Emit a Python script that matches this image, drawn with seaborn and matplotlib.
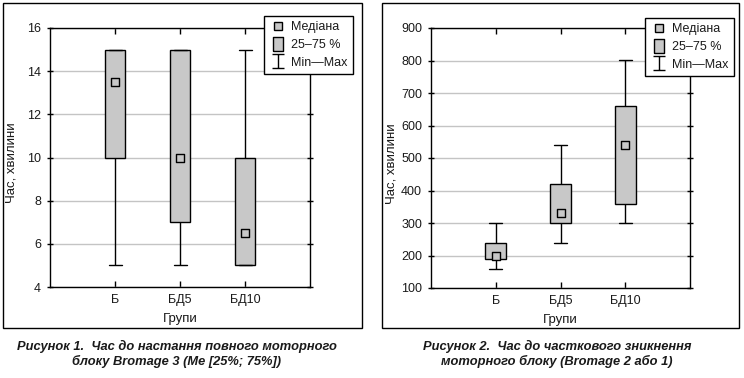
import numpy as np
import pandas as pd
import matplotlib
matplotlib.use("Agg")
import matplotlib.pyplot as plt
import seaborn as sns
from matplotlib.lines import Line2D
from matplotlib.path import Path
from matplotlib.patches import Rectangle

# ---------------- data ----------------
groups = ["Б", "БД5", "БД10"]

p1_min = [5, 5, 5]
p1_q1 = [10, 7, 5]
p1_med = [13.5, 10, 6.5]
p1_q3 = [15, 15, 10]
p1_max = [15, 15, 15]

p2_min = [160, 238, 300]
p2_q1 = [190, 300, 358]
p2_med = [200, 330, 540]
p2_q3 = [238, 420, 660]
p2_max = [300, 540, 802]

y1_ticks = [4, 6, 8, 10, 12, 14, 16]
y2_ticks = [100, 200, 300, 400, 500, 600, 700, 800, 900]

ylabel = "Час, хвилини"
xlabel = "Групи"
legend_labels = ["Медіана", "25–75 %", "Min—Max"]
captions = [
    "Рисунок 1.  Час до настання повного моторного\nблоку Bromage 3 (Me [25%; 75%])",
    "Рисунок 2.  Час до часткового зникнення\nмоторного блоку (Bromage 2 або 1)",
]

# ---------------- style ----------------
sns.set_theme(style="white")
plt.rcParams["font.family"] = ["Liberation Sans", "DejaVu Sans"]

W, H = 744, 378
fig = plt.figure(figsize=(W / 100, H / 100), dpi=100)

BOX = "#c8c8c8"
GRID = "#c4c4c4"
TXT = "#1a1a1a"


def px_axes(x0, y0, x1, y1):
    return fig.add_axes([x0 / W, 1 - y1 / H, (x1 - x0) / W, (y1 - y0) / H])


def build_df(mins, q1s, meds, q3s, maxs):
    rows = []
    for g, a, b, c, d, e in zip(groups, mins, q1s, meds, q3s, maxs):
        for v in (a, b, c, d, e):
            rows.append({"group": g, "value": v})
    return pd.DataFrame(rows)


def draw_panel(ax, df, meds, yticks, width, ylab_x):
    sns.boxplot(data=df, x="group", y="value", order=groups, whis=(0, 100),
                width=width, color=BOX, saturation=1, linecolor="black",
                linewidth=1.0, showfliers=False,
                medianprops={"visible": False}, capwidths=0.2, ax=ax, zorder=3)
    med_df = pd.DataFrame({"group": groups, "value": meds})
    sns.stripplot(data=med_df, x="group", y="value", order=groups, jitter=False,
                  marker="s", size=6, color=BOX, edgecolor="black", linewidth=1.0,
                  ax=ax, zorder=5)
    ax.set_xlim(-1, 3)
    ax.set_ylim(yticks[0], yticks[-1])
    ax.set_yticks(yticks)
    ax.set_yticklabels([str(t) for t in yticks])
    ax.yaxis.grid(True, color=GRID, linewidth=1.0, zorder=0)
    ax.set_axisbelow(True)
    for s in ax.spines.values():
        s.set_visible(True)
        s.set_color("black")
        s.set_linewidth(1.0)
    ax.tick_params(axis="y", which="both", left=True, right=True,
                   direction="inout", length=5, width=1, color="black",
                   labelsize=9, labelcolor=TXT, pad=4)
    ax.tick_params(axis="x", which="both", bottom=True, top=True,
                   direction="in", length=4, width=1, color="black",
                   labelsize=9, labelcolor=TXT, pad=5)
    ax.set_xlabel(xlabel, fontsize=9.5, color=TXT, labelpad=5)
    ax.set_ylabel(ylabel, fontsize=9.5, color=TXT)
    ax.yaxis.set_label_coords(ylab_x, 0.48)


def add_legend(right_px, top_px):
    ibeam = Path([(-0.9, 1), (0.9, 1), (0, 1), (0, -1), (-0.9, -1), (0.9, -1)],
                 [Path.MOVETO, Path.LINETO, Path.MOVETO, Path.LINETO,
                  Path.MOVETO, Path.LINETO])
    rect = [(-0.7, -1), (0.7, -1), (0.7, 1), (-0.7, 1), (-0.7, -1)]
    handles = [
        Line2D([], [], linestyle="none", marker="s", markersize=5.5,
               markerfacecolor=BOX, markeredgecolor="black", markeredgewidth=1),
        Line2D([], [], linestyle="none", marker=rect, markersize=10,
               markerfacecolor=BOX, markeredgecolor="black", markeredgewidth=1),
        Line2D([], [], linestyle="none", marker=ibeam, markersize=10,
               color="black", markeredgewidth=1, fillstyle="none"),
    ]
    leg = fig.legend(handles, legend_labels, loc="upper right",
                     bbox_to_anchor=(right_px / W, 1 - top_px / H),
                     frameon=True, fancybox=False, framealpha=1,
                     edgecolor="black", fontsize=9, handlelength=1.3,
                     handletextpad=0.45, labelspacing=0.45, borderpad=0.42,
                     borderaxespad=0)
    leg.get_frame().set_linewidth(1.0)
    for t in leg.get_texts():
        t.set_color(TXT)


# panel 1
ax1 = px_axes(50, 28, 310, 287)
draw_panel(ax1, build_df(p1_min, p1_q1, p1_med, p1_q3, p1_max), p1_med,
           y1_ticks, 0.3, -0.125)
add_legend(353, 16)

# panel 2
ax2 = px_axes(431, 28, 690, 288)
draw_panel(ax2, build_df(p2_min, p2_q1, p2_med, p2_q3, p2_max), p2_med,
           y2_ticks, 0.32, -0.128)
add_legend(734, 18)

# outer frames
for (x0, y0, x1, y1) in [(3, 3, 362, 328), (382, 3, 739, 328)]:
    fig.add_artist(Rectangle((x0 / W, 1 - y1 / H), (x1 - x0) / W, (y1 - y0) / H,
                             transform=fig.transFigure, fill=False,
                             edgecolor="black", linewidth=1.0))

# captions
cap_font = ["Liberation Sans", "DejaVu Sans"]
for cx, cap in zip([177, 557], captions):
    fig.text(cx / W, 1 - 354 / H, cap, ha="center", va="center", fontsize=9.3,
             fontweight="bold", fontstyle="italic", family=cap_font, color=TXT,
             linespacing=1.25)

fig.savefig("out.png", dpi=100)
